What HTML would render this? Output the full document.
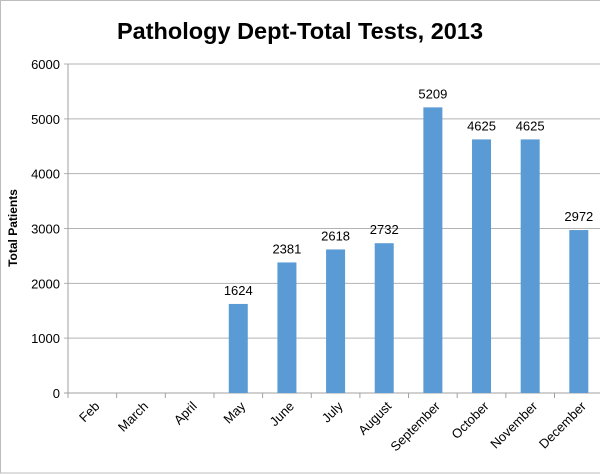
<!DOCTYPE html>
<html><head><meta charset="utf-8"><style>
html,body{margin:0;padding:0;background:#fff;}
svg{display:block;font-family:"Liberation Sans",Calibri,sans-serif;}
</style></head><body>
<svg id="chart" width="600" height="475">
<rect x="0.5" y="0.5" width="620" height="472.5" fill="#fff" stroke="#bdbdbd"/>
<text x="300" y="39" text-anchor="middle" font-size="23.5" font-weight="bold" fill="#000">Pathology Dept-Total Tests, 2013</text>
<text transform="translate(17,228) rotate(-90)" text-anchor="middle" font-size="12" font-weight="bold" fill="#000">Total Patients</text>
<g id="grid"></g><g id="bars"></g><g id="axes"></g>
</svg>
<script>
const categories=["Feb","March","April","May","June","July","August","September","October","November","December"];
const values=[null,null,null,1624,2381,2618,2732,5209,4625,4625,2972];
const yTicks=[0,1000,2000,3000,4000,5000,6000];
const NS="http://www.w3.org/2000/svg";
const X0=68,STEP=48.65,Y0=393,YTOP=64,YMAX=6000,BW=19;
function y(v){return Y0-(v/YMAX)*(Y0-YTOP);}
function xc(i){return X0+STEP*(i+0.5);}
function mk(t,a,p){const e=document.createElementNS(NS,t);for(const k in a)e.setAttribute(k,a[k]);p.appendChild(e);return e;}
const grid=document.getElementById('grid'),bars=document.getElementById('bars'),axes=document.getElementById('axes');
yTicks.forEach(t=>{
 const l=mk('line',{x1:X0-4,x2:600,y1:y(t),y2:y(t),stroke:t===0?'#a0a0a0':'#b3b3b3','stroke-width':1},grid);
 
 
 const tx=mk('text',{x:X0-8,y:y(t)+5,'text-anchor':'end','font-size':13,fill:'#000'},axes);
 tx.textContent=t;
 
 
});
const ax=mk('line',{x1:X0,x2:X0,y1:YTOP,y2:Y0,stroke:'#a0a0a0'},axes);


categories.forEach((c,i)=>{
 const tk=mk('line',{x1:X0+STEP*i,x2:X0+STEP*i,y1:Y0,y2:Y0+5,stroke:'#a0a0a0'},axes);
 
 
 const cx=xc(i);
 const lb=mk('text',{x:0,y:0,'text-anchor':'end','font-size':13,fill:'#000',transform:`translate(${cx+8},${Y0+14}) rotate(-45)`},axes);
 lb.textContent=c;
 
 
 const v=values[i];
 if(v!=null){
  const r=mk('rect',{x:cx-BW/2,y:y(v),width:BW,height:Y0-y(v),fill:'#5b9bd5'},bars);
  
  
  const vl=mk('text',{x:cx,y:y(v)-9,'text-anchor':'middle','font-size':13,fill:'#000'},bars);
  vl.textContent=v;
  
  
 }
});
</script>
</body></html>
